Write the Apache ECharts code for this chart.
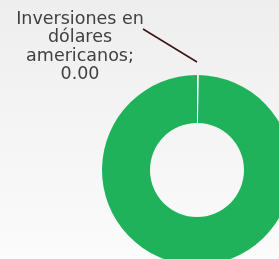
<!DOCTYPE html>
<html>
<head>
<meta charset="utf-8">
<script src="https://cdn.jsdelivr.net/npm/echarts@6/dist/echarts.min.js"></script>
<style>
  html, body { margin: 0; padding: 0; }
  #chart { width: 279px; height: 259px; }
</style>
</head>
<body>
<div id="chart"></div>
<script>
// datos
const categories = ["Inversiones en dólares americanos", "Otros"];
const values = [0, 100];
const colors = ["#ffffff", "#20b25b"];

const chart = echarts.init(document.getElementById("chart"));

chart.setOption({
  backgroundColor: {
    type: "linear", x: 0, y: 0, x2: 0, y2: 1,
    colorStops: [
      { offset: 0, color: "#eeeeee" },
      { offset: 1, color: "#fbfbfb" },
    ],
  },
  animation: false,
  series: [
    {
      type: "pie",
      center: [197, 170],
      radius: [47, 95],
      startAngle: 90,
      clockwise: true,
      minAngle: 1.1,
      stillShowZeroSum: true,
      avoidLabelOverlap: false,
      data: categories.map((name, i) => ({
        name: name,
        value: values[i],
        itemStyle: i === 0
          ? { color: colors[i], borderColor: "#ffffff", borderWidth: 1 }
          : { color: colors[i] },
        label: { show: i === 0 },
        labelLine: { show: i === 0 },
      })),
      label: {
        position: "outside",
        formatter: (p) => "Inversiones en\ndólares\namericanos;\n" + p.value.toFixed(2),
        color: "#404040",
        fontFamily: "DejaVu Sans",
        fontSize: 17.5,
        lineHeight: 18.5,
        align: "center",
      },
      labelLine: {
        lineStyle: { color: "#3c1414", width: 1.5 },
      },
      labelLayout: function (params) {
        return {
          x: 80,
          y: 47,
          align: "center",
          verticalAlign: "middle",
          labelLinePoints: [[197, 62], [143, 29]],
        };
      },
    },
  ],
});
</script>
</body>
</html>
